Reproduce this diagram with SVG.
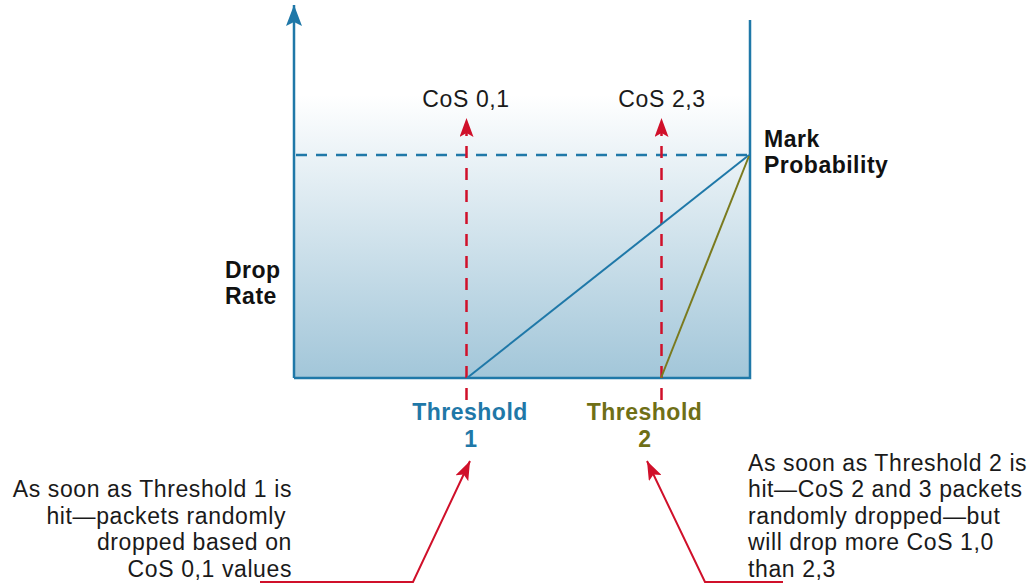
<svg xmlns="http://www.w3.org/2000/svg" width="1036" height="584" viewBox="0 0 1036 584">
  <style>
    .txt { font-family: "Liberation Sans", Arial, sans-serif; font-size: 23px; fill: #1a1a1a; letter-spacing: 0.6px; }
    .bold { font-family: "Liberation Sans", Arial, sans-serif; font-size: 23px; font-weight: bold; fill: #111111; letter-spacing: 0.5px; }
    .t1 { fill: #1f78a8; }
    .t2 { fill: #6f6f16; }
    .axis { stroke: #1f78a8; stroke-width: 2.5; fill: none; }
    .reddash { stroke: #d0102a; stroke-width: 2.5; stroke-dasharray: 12 10; fill: none; }
    .redline { stroke: #d0102a; stroke-width: 2; fill: none; }
    .bluedash { stroke: #1f78a8; stroke-width: 2.5; stroke-dasharray: 11 9; fill: none; }
  </style>
  <defs>
    <linearGradient id="fillGrad" x1="0" y1="0" x2="0" y2="1">
      <stop offset="0" stop-color="#ffffff"/>
      <stop offset="1" stop-color="#a2c6d9"/>
    </linearGradient>
    <marker id="redArrow" viewBox="0 0 19 14" refX="19" refY="7" markerWidth="19" markerHeight="14" markerUnits="userSpaceOnUse" orient="auto">
      <path d="M0,0 L19,7 L0,14 L4,7 Z" fill="#d0102a"/>
    </marker>
    <marker id="blueArrow" viewBox="0 0 21 16" refX="21" refY="8" markerWidth="21" markerHeight="16" markerUnits="userSpaceOnUse" orient="auto">
      <path d="M0,0 L21,8 L0,16 L4,8 Z" fill="#1f78a8"/>
    </marker>
  </defs>

  <g id="plot">
    <rect x="294" y="95" width="456" height="283" fill="url(#fillGrad)"/>
    <line class="axis" x1="294" y1="378" x2="294" y2="5" marker-end="url(#blueArrow)"/>
    <polyline class="axis" points="294,378 750,378 750,20"/>
    <line class="bluedash" x1="296" y1="155" x2="748" y2="155"/>
  </g>

  <g id="connectors">
    <line class="reddash" x1="466.5" y1="400" x2="466.5" y2="118" marker-end="url(#redArrow)"/>
    <line class="reddash" x1="661.5" y1="400" x2="661.5" y2="118" marker-end="url(#redArrow)"/>
    <line x1="467" y1="378" x2="749" y2="155" stroke="#1f78a8" stroke-width="2"/>
    <line x1="661" y1="378" x2="749" y2="156" stroke="#7a7a1e" stroke-width="2"/>
    <polyline class="redline" points="260,582 413,582 470,461" marker-end="url(#redArrow)"/>
    <polyline class="redline" points="783,582 705,582 647,461" marker-end="url(#redArrow)"/>
  </g>

  <g id="label-cos01"><text class="txt" x="466" y="107" text-anchor="middle">CoS 0,1</text></g>
  <g id="label-cos23"><text class="txt" x="662" y="107" text-anchor="middle">CoS 2,3</text></g>

  <g id="label-mark">
    <text class="bold" x="764" y="147">Mark</text>
    <text class="bold" x="764" y="173">Probability</text>
  </g>

  <g id="label-drop">
    <text class="bold" x="225" y="278">Drop</text>
    <text class="bold" x="225" y="304">Rate</text>
  </g>

  <g id="threshold1">
    <text class="bold t1" x="470" y="420" text-anchor="middle">Threshold</text>
    <text class="bold t1" x="471" y="447" text-anchor="middle">1</text>
  </g>
  <g id="threshold2">
    <text class="bold t2" x="644.5" y="420" text-anchor="middle">Threshold</text>
    <text class="bold t2" x="645" y="447" text-anchor="middle">2</text>
  </g>

  <g id="note1">
    <text class="txt" x="292" y="497" text-anchor="end">As soon as Threshold 1 is</text>
    <text class="txt" x="286" y="523.5" text-anchor="end">hit—packets randomly</text>
    <text class="txt" x="292" y="550" text-anchor="end">dropped based on</text>
    <text class="txt" x="292" y="576.5" text-anchor="end">CoS 0,1 values</text>
  </g>

  <g id="note2">
    <text class="txt" x="748" y="471">As soon as Threshold 2 is</text>
    <text class="txt" x="748" y="497">hit—CoS 2 and 3 packets</text>
    <text class="txt" x="748" y="523.5">randomly dropped—but</text>
    <text class="txt" x="748" y="550">will drop more CoS 1,0</text>
    <text class="txt" x="748" y="576.5">than 2,3</text>
  </g>
</svg>
